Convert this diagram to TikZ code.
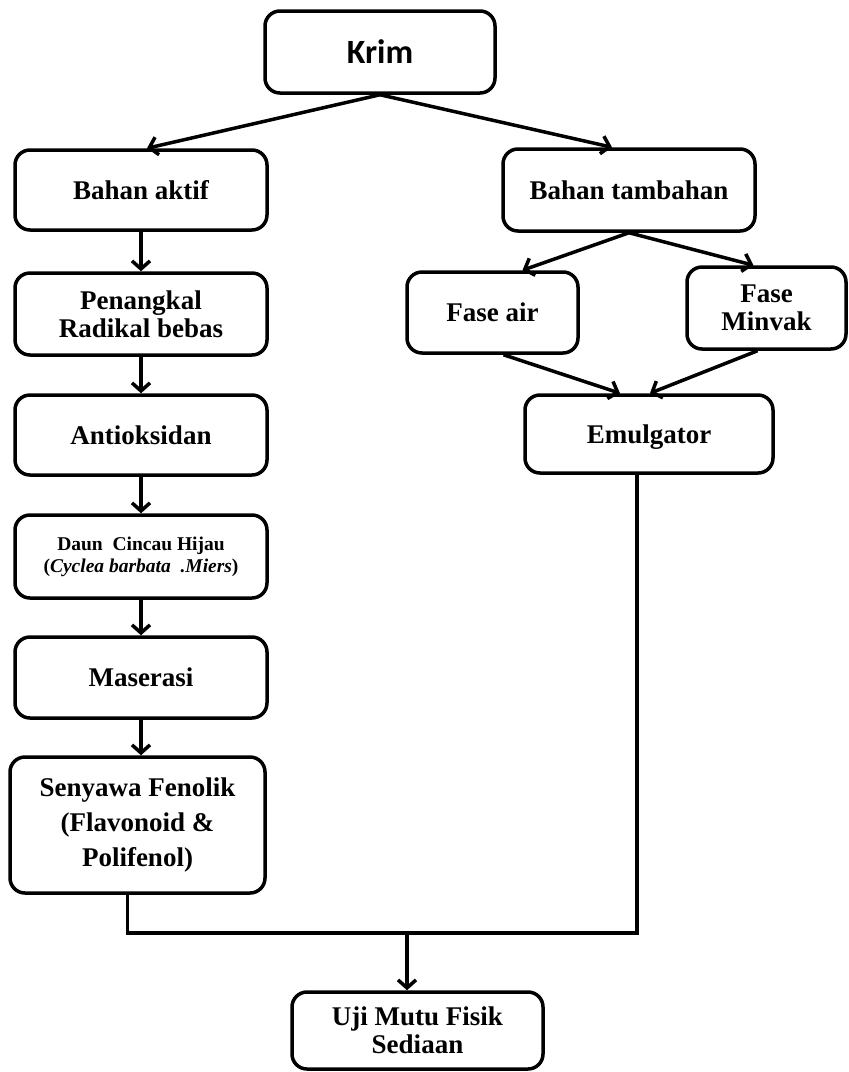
\documentclass[tikz,border=0pt]{standalone}
\usepackage{fontspec}
\setmainfont{Liberation Serif}
\newfontfamily\krimfont{Carlito}
\usepackage{tikz}
\usetikzlibrary{arrows.meta,calc}

\begin{document}
\begin{tikzpicture}[x=1pt, y=-1pt]
  % Style definitions
  \tikzstyle{box} = [rectangle, draw=black, line width=3.5pt, fill=white, rounded corners=15pt, align=center, inner sep=2pt, font=\fontsize{27}{28}\selectfont\bfseries]
  \tikzstyle{arr} = [line width=3.5pt, -{Straight Barb[length=8pt,width=18pt]}]
  \tikzstyle{link} = [line width=3.5pt]

  \useasboundingbox (0,0) rectangle (849,1072);

  % Top
  \node (krim) [box, minimum width=230pt, minimum height=82pt, font=\krimfont\fontsize{34}{36}\selectfont\bfseries] at (380,52) {Krim};

  % Left column
  \node (aktif) [box, minimum width=252pt, minimum height=80pt] at (141,190) {Bahan aktif};
  \node (penangkal) [box, minimum width=252pt, minimum height=82pt] at (141,314) {Penangkal\\Radikal bebas};
  \node (antiok) [box, minimum width=252pt, minimum height=80pt] at (141,435) {Antioksidan};
  \node (daun) [box, minimum width=252pt, minimum height=83pt, font=\fontsize{19.5}{22}\selectfont\bfseries] at (141,556.5) {Daun~~Cincau Hijau\\(\textit{Cyclea barbata~~.Miers})};
  \node (maserasi) [box, minimum width=252pt, minimum height=81pt] at (141,677.5) {Maserasi};
  \node (senyawa) [box, minimum width=255pt, minimum height=136pt, font=\fontsize{27}{35}\selectfont\bfseries] at (137.5,825) {Senyawa Fenolik\\(Flavonoid \&\\Polifenol)};

  % Right column
  \node (tambahan) [box, minimum width=252pt, minimum height=82pt] at (629,190) {Bahan tambahan};
  \node (faseair) [box, minimum width=171pt, minimum height=81pt] at (492.5,312.5) {Fase air};
  \node (faseminyak) [box, minimum width=159pt, minimum height=82pt] at (766.5,308) {Fase\\Minvak};
  \node (emulgator) [box, minimum width=248pt, minimum height=78pt, text depth=0pt] at (649,434) {Emulgator};

  % Result
  \node (uji) [box, minimum width=251pt, minimum height=77pt] at (417.5,1030.5) {Uji Mutu Fisik\\Sediaan};
  \coordinate (join) at (407,933);

  % Arrows
  \draw[arr] (krim.south) -- ([xshift=6pt]aktif.north);
  \draw[arr] (krim.south) -- ([xshift=-17pt]tambahan.north);
  \draw[arr] (aktif) -- (penangkal);
  \draw[arr] (penangkal) -- (antiok);
  \draw[arr] (antiok) -- (daun);
  \draw[arr] (daun) -- (maserasi);
  \draw[arr] (maserasi) -- (senyawa.north -| maserasi.south);
  \draw[arr] (tambahan.south) -- ([xshift=30pt]faseair.north);
  \draw[arr] (tambahan.south) -- ([xshift=-13pt]faseminyak.north);
  \draw[arr] ([xshift=11pt]faseair.south) -- ([xshift=-29pt]emulgator.north);
  \draw[arr] ([xshift=-9pt]faseminyak.south) -- ([xshift=1pt]emulgator.north);
  \draw[link] ([xshift=-10pt]senyawa.south) |- (join) -| ([xshift=-12pt]emulgator.south);
  \draw[arr] (join) -- (join |- uji.north);
\end{tikzpicture}
\end{document}
